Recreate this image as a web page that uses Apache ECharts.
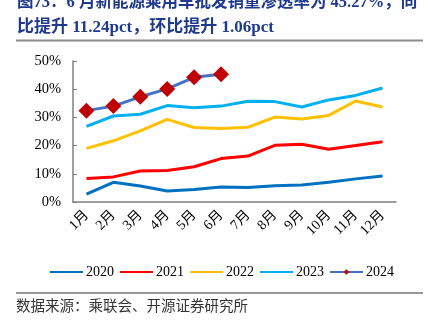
<!DOCTYPE html>
<html>
<head>
<meta charset="utf-8">
<script src="https://cdn.jsdelivr.net/npm/echarts@6/dist/echarts.min.js"></script>
<style>
html,body{margin:0;padding:0;background:#fff;}
#c{width:433px;height:321px;}
</style>
</head>
<body>
<div id="c"></div>
<script>
var months = ['1月','2月','3月','4月','5月','6月','7月','8月','9月','10月','11月','12月'];
var s2020 = [2.8, 7.0, 5.7, 3.9, 4.4, 5.3, 5.1, 5.8, 6.0, 7.0, 8.2, 9.2];
var s2021 = [8.3, 8.9, 11.0, 11.2, 12.5, 15.4, 16.3, 20.1, 20.5, 18.7, 20.0, 21.4];
var s2022 = [19.0, 21.7, 25.2, 29.3, 26.4, 26.1, 26.5, 30.1, 29.4, 30.7, 35.8, 33.7];
var s2023 = [26.8, 30.5, 31.1, 34.2, 33.4, 34.0, 35.7, 35.6, 33.7, 36.2, 37.8, 40.4];
var s2024 = [32.4, 34.0, 37.3, 40.1, 44.21, 45.27];
var yTicks = [0, 10, 20, 30, 40, 50];
var seriesNames = ['2020','2021','2022','2023','2024'];
var titleLine1 = '图73：6 月新能源乘用车批发销量渗透率为 45.27%，同';
var titleLine2 = '比提升 11.24pct，环比提升 1.06pct';
var sourceText = '数据来源：乘联会、开源证券研究所';

var serif = '"Liberation Serif", "Times New Roman", "Noto Sans CJK SC", serif';
var chart = echarts.init(document.getElementById('c'), null, {renderer: 'canvas'});

function lineSeries(name, data, color) {
  return {
    name: name, type: 'line', data: data, symbol: 'none', smooth: false,
    lineStyle: {color: color, width: 3}, itemStyle: {color: color},
    emphasis: {disabled: true}
  };
}

var legendData = seriesNames.map(function (n, i) {
  return i < 4 ? {name: n, itemStyle: {opacity: 0}} : {name: n};
});

var option = {
  animation: false,
  backgroundColor: '#fff',
  grid: {left: 73, right: 37, top: 61, bottom: 119, containLabel: false},
  xAxis: {
    type: 'category', data: months, boundaryGap: true,
    axisLine: {lineStyle: {color: '#7f7f7f', width: 1.5}},
    axisTick: {inside: true, length: 4, lineStyle: {color: '#7f7f7f'}},
    axisLabel: {rotate: 45, margin: 11, color: '#000', fontSize: 14, fontFamily: serif, interval: 0}
  },
  yAxis: {
    type: 'value', min: yTicks[0], max: yTicks[yTicks.length - 1], interval: 10,
    axisLine: {show: true, lineStyle: {color: '#7f7f7f', width: 1.5}},
    axisTick: {show: true, inside: true, length: 4, lineStyle: {color: '#7f7f7f'}},
    splitLine: {show: false},
    axisLabel: {formatter: '{value}%', color: '#000', fontSize: 14.5, fontFamily: serif, margin: 12}
  },
  legend: {
    data: legendData, left: 44, top: 260, itemWidth: 33, itemHeight: 7, itemGap: 5,
    textStyle: {color: '#000', fontSize: 14, fontFamily: serif, padding: [0, 0, 0, -2]}
  },
  series: [
    lineSeries(seriesNames[0], s2020, '#0070C0'),
    lineSeries(seriesNames[1], s2021, '#FF0000'),
    lineSeries(seriesNames[2], s2022, '#FFC000'),
    lineSeries(seriesNames[3], s2023, '#00B0F0'),
    {
      name: seriesNames[4], type: 'line', data: s2024, symbol: 'diamond', symbolSize: 16,
      lineStyle: {color: '#4472C4', width: 3}, itemStyle: {color: '#C00000'},
      emphasis: {disabled: true}, z: 5
    }
  ],
  graphic: [
    {type: 'text', left: 17, top: -6, style: {text: titleLine1, fill: '#1F3A8C', font: 'bold 16.5px ' + serif}},
    {type: 'text', left: 17, top: 19, style: {text: titleLine2, fill: '#1F3A8C', font: 'bold 17px ' + serif}},
    {type: 'rect', shape: {x: 16, y: 39.5, width: 407, height: 2}, style: {fill: '#8c8c8c'}},
    {type: 'rect', shape: {x: 16, y: 292.5, width: 407, height: 1}, style: {fill: '#333'}},
    {type: 'text', left: 16, top: 300, style: {text: sourceText, fill: '#333', font: '14.5px ' + serif}}
  ]
};
chart.setOption(option);
</script>
</body>
</html>
